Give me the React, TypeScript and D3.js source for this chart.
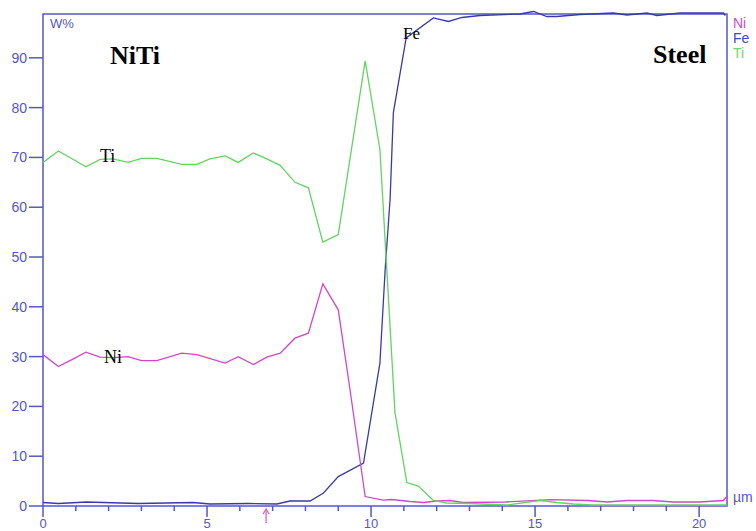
import React from 'react';
import * as d3 from 'd3';

// distance (µm) / weight %
const tiPoints: [number, number][] = [
  [0, 69.0], [0.47, 71.3], [1.31, 68.1], [1.74, 69.6], [2.13, 69.7], [2.6, 69.0],
  [3.0, 69.8], [3.47, 69.8], [4.23, 68.6], [4.69, 68.6], [5.09, 69.7], [5.55, 70.3],
  [5.95, 69.0], [6.41, 70.9], [6.82, 69.7], [7.23, 68.4], [7.68, 65.0], [8.09, 63.9],
  [8.53, 53.0], [9.0, 54.5], [9.82, 89.4], [10.27, 71.6], [10.73, 18.7], [11.09, 4.7],
  [11.44, 4.0], [11.9, 1.1], [12.3, 0.6], [13.0, 0.5], [14.13, 0.2], [15.15, 1.1],
  [15.66, 0.7], [16.16, 0.4], [16.77, 0.2], [18.0, 0.2], [20.85, 0.2],
];

const niPoints: [number, number][] = [
  [0, 30.4], [0.47, 28.0], [0.88, 29.4], [1.31, 30.9], [1.74, 29.9], [2.13, 29.8],
  [2.6, 30.0], [3.0, 29.2], [3.47, 29.2], [4.23, 30.7], [4.69, 30.4], [5.55, 28.7],
  [5.95, 30.0], [6.41, 28.4], [6.82, 29.9], [7.23, 30.7], [7.68, 33.7], [8.09, 34.7],
  [8.53, 44.6], [9.0, 39.4], [9.36, 23.3], [9.82, 1.9], [10.37, 1.2], [10.63, 1.3],
  [11.19, 0.9], [11.6, 0.7], [12.0, 1.0], [12.41, 1.1], [12.8, 0.7], [14.1, 0.8],
  [15.46, 1.3], [16.6, 1.1], [17.2, 0.8], [17.8, 1.1], [18.6, 1.1], [19.2, 0.8],
  [20.0, 0.8], [20.74, 1.1], [20.85, 2.0],
];

const fePoints: [number, number][] = [
  [0, 0.7], [0.47, 0.5], [1.33, 0.8], [2.9, 0.5], [4.57, 0.7], [5.09, 0.4],
  [6.25, 0.5], [7.13, 0.4], [7.53, 1.0], [8.14, 1.0], [8.55, 2.6], [9.0, 5.9],
  [9.77, 8.6], [10.27, 28.7], [10.43, 47.5], [10.58, 61.6], [10.68, 79.0], [11.07, 94.0],
  [11.9, 98.0], [12.36, 97.3], [12.77, 98.1], [13.32, 98.5], [14.54, 98.8], [14.95, 99.3],
  [15.36, 98.3], [15.66, 98.3], [16.37, 98.7], [17.39, 99.0], [17.8, 98.6], [18.41, 99.0],
  [18.71, 98.5], [19.42, 99.0], [20.74, 99.0], [20.8, 98.5],
];

const yTicks = [0, 10, 20, 30, 40, 50, 60, 70, 80, 90];
const xMajor = [0, 5, 10, 15, 20];
const xMinor = [1, 2, 3, 4, 6, 7, 8, 9, 11, 12, 13, 14, 16, 17, 18, 19];
const legend = [
  { name: 'Ni', color: '#d04ad0' },
  { name: 'Fe', color: '#4646c4' },
  { name: 'Ti', color: '#6cd86c' },
];

const W = 756;
const H = 531;
const margin = { top: 14, right: 29, bottom: 25, left: 43 };
const axisColor = '#5656c6';

export default function App() {
  const x = d3.scaleLinear().domain([0, 20.85]).range([margin.left, W - margin.right]);
  const y = d3.scaleLinear().domain([0, 98.8]).range([H - margin.bottom, margin.top]);
  const line = d3.line<[number, number]>().x(d => x(d[0])).y(d => y(d[1]));
  const y0 = y(0);

  const series = [
    { pts: fePoints, color: '#3a3aa6' },
    { pts: niPoints, color: '#d246c8' },
    { pts: tiPoints, color: '#62d462' },
  ];

  return (
    <svg width={W} height={H} style={{ position: 'absolute', left: 0, top: 0, background: '#fff' }}
      fontFamily="Arial, 'Liberation Sans', sans-serif">
      <rect x={margin.left} y={margin.top} width={x(20.85) - margin.left} height={y0 - margin.top}
        fill="none" stroke={axisColor} strokeWidth={1.5} />

      {yTicks.map(t => (
        <g key={t} transform={`translate(0, ${y(t)})`}>
          <line x1={29} x2={margin.left} stroke={axisColor} strokeWidth={1.5} />
          <text x={27} dy="0.35em" textAnchor="end" fontSize={14} fill={axisColor}>{t}</text>
        </g>
      ))}

      {xMajor.map(t => (
        <g key={t} transform={`translate(${x(t)}, 0)`}>
          <line y1={y0} y2={y0 + 11} stroke={axisColor} strokeWidth={1.5} />
          <text y={528} textAnchor="middle" fontSize={13} fill={axisColor}>{t}</text>
        </g>
      ))}
      {xMinor.map(t => (
        <line key={t} x1={x(t)} x2={x(t)} y1={y0} y2={y0 + 5} stroke={axisColor} strokeWidth={1.5} />
      ))}

      <text x={50} y={28} fontSize={13} fill={axisColor}>W%</text>
      <text x={733} y={502} fontSize={14} fill={axisColor}>µm</text>

      {legend.map((l, i) => (
        <text key={l.name} x={733} y={28 + i * 15} fontSize={14} fill={l.color}>{l.name}</text>
      ))}

      {series.map((s, i) => (
        <path key={i} d={line(s.pts) || ''} fill="none" stroke={s.color} strokeWidth={1.3} />
      ))}

      <g fontFamily="'Liberation Serif', 'Times New Roman', serif" fill="#000">
        <text x={110} y={64} fontSize={26} fontWeight="bold">NiTi</text>
        <text x={653} y={63} fontSize={26} fontWeight="bold">Steel</text>
        <text x={100} y={162} fontSize={18}>Ti</text>
        <text x={104} y={363} fontSize={18}>Ni</text>
        <text x={403} y={39} fontSize={17}>Fe</text>
      </g>

      {/* marker arrow below the axis */}
      <g stroke="#e060c8" strokeWidth={1.3} fill="none">
        <line x1={x(6.8)} x2={x(6.8)} y1={510} y2={523} />
        <path d={`M ${x(6.8) - 3} ${514} L ${x(6.8)} ${509} L ${x(6.8) + 3} ${514}`} />
      </g>
    </svg>
  );
}
